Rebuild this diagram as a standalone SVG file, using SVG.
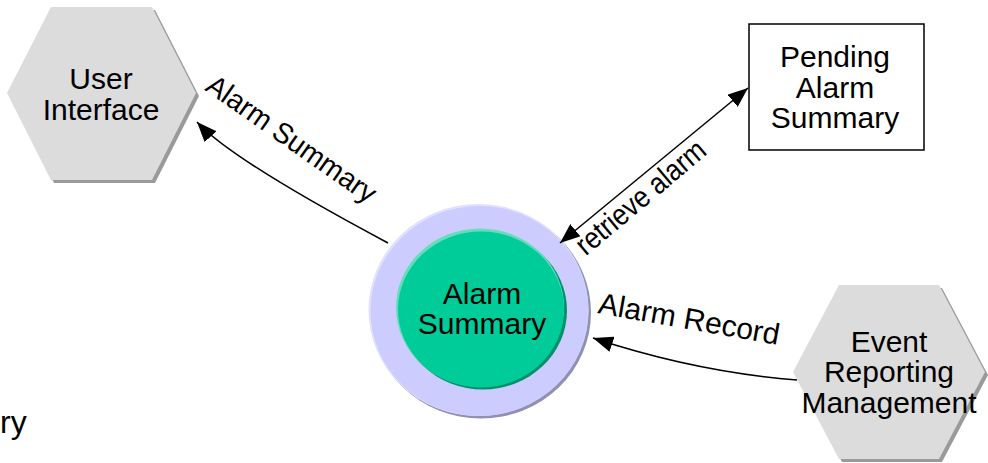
<svg xmlns="http://www.w3.org/2000/svg" width="988" height="463" viewBox="0 0 988 463">
<style>
text{font-family:"Liberation Sans",Arial,sans-serif;fill:#000}
.node text{font-size:30px;text-anchor:middle}
.hex{fill:#dcdcdc}
.hexsh{fill:#9a9a9a}
.conn path{fill:none;stroke:#000;stroke-width:1.5}
.lbl{font-size:28px}
</style>
<defs>
<marker id="ah" viewBox="0 0 20 16" refX="20" refY="8" markerWidth="20" markerHeight="16" markerUnits="userSpaceOnUse" orient="auto-start-reverse">
<path d="M0,0 L20,8 L0,16 z" fill="#000"/>
</marker>
</defs>
<rect width="988" height="463" fill="#fff"/>

<g id="node-user-interface" class="node">
<polygon class="hexsh" points="10,96 54,10 155,10 199,96 155,183 54,183"/>
<polygon class="hex" points="7,93 51,7 152,7 196,93 152,180 51,180"/>
<text x="101" y="89">User</text>
<text x="101" y="120">Interface</text>
</g>

<g id="node-pending-alarm-summary" class="node">
<rect x="749" y="24" width="175" height="126" fill="#fff" stroke="#000" stroke-width="1.5"/>
<text x="835" y="67">Pending</text>
<text x="835" y="97.5">Alarm</text>
<text x="835" y="128">Summary</text>
</g>

<g id="node-alarm-summary" class="node">
<ellipse cx="481" cy="312.5" rx="110" ry="106" fill="#9090b4"/>
<ellipse cx="478.5" cy="310" rx="110" ry="106" fill="#e0e0ff"/>
<ellipse cx="479.5" cy="311" rx="109" ry="105" fill="#ccccff"/>
<ellipse cx="483" cy="310.5" rx="84" ry="79" fill="#00936b"/>
<ellipse cx="480" cy="307.5" rx="84" ry="79" fill="#66dcbc"/>
<ellipse cx="481" cy="309.5" rx="83" ry="78" fill="#00cc99"/>
<text x="482" y="304">Alarm</text>
<text x="482" y="334">Summary</text>
</g>

<g id="node-event-reporting-management" class="node">
<polygon class="hexsh" points="796,375 842,288 942,288 988,375 942,462 842,462"/>
<polygon class="hex" points="793,372 839,285 939,285 985,372 939,459 839,459"/>
<text x="889" y="352">Event</text>
<text x="889" y="382">Reporting</text>
<text x="889" y="412.5">Management</text>
</g>

<g id="connectors" class="conn">
<path id="c-alarm-summary" d="M388,243 Q232,160 197,122" marker-end="url(#ah)"/>
<path id="c-retrieve-alarm" d="M560,243 L748,88" marker-start="url(#ah)" marker-end="url(#ah)"/>
<path id="c-alarm-record" d="M797,380 Q696,372 593,338" marker-end="url(#ah)"/>
<text class="lbl" x="286" y="147" text-anchor="middle" style="font-size:29px" textLength="200" lengthAdjust="spacingAndGlyphs" transform="rotate(35 286 147)">Alarm Summary</text>
<text class="lbl" x="647" y="205" text-anchor="middle" style="font-size:30px" textLength="160" lengthAdjust="spacingAndGlyphs" transform="rotate(-40 647 205)">retrieve alarm</text>
<text class="lbl" x="597" y="313" style="font-size:30px" transform="rotate(10 597 313)">Alarm Record</text>
</g>

<text x="0" y="433" font-size="32">ry</text>
</svg>
